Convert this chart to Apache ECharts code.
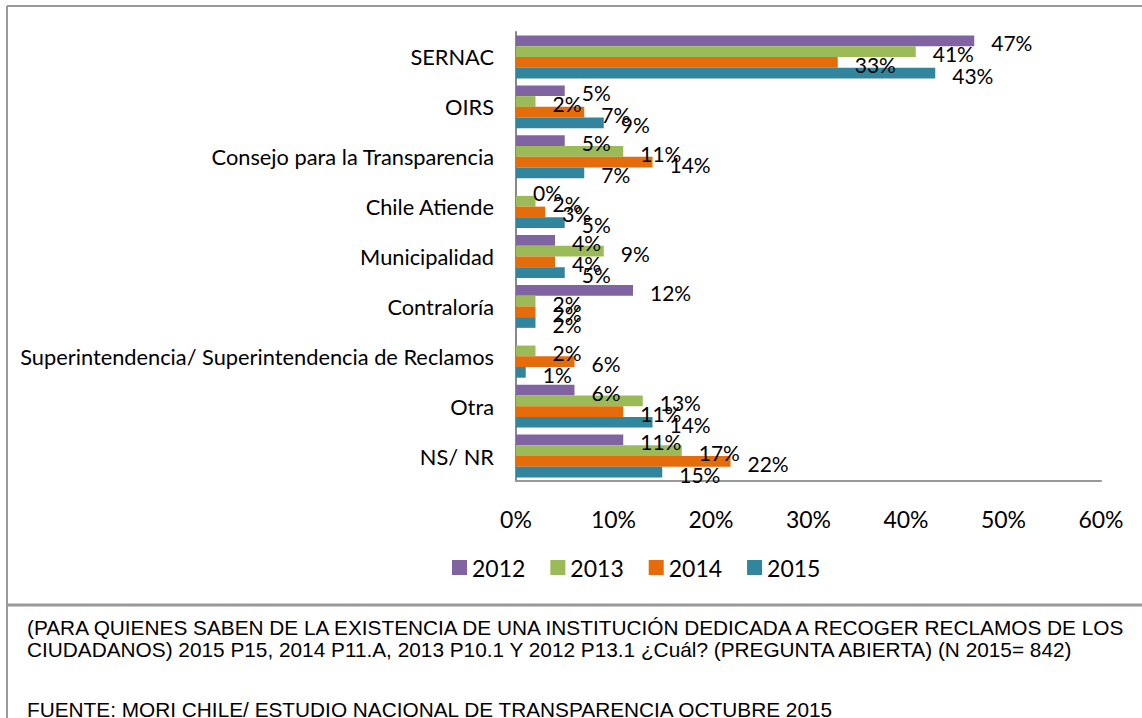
<!DOCTYPE html>
<html>
<head>
<meta charset="utf-8">
<script src="https://cdn.jsdelivr.net/npm/echarts@6/dist/echarts.min.js"></script>
<style>
html,body{margin:0;padding:0;background:#fff;}
#chart{width:1142px;height:718px;}
</style>
</head>
<body>
<div id="chart"></div>
<script>
const categories = ["SERNAC","OIRS","Consejo para la Transparencia","Chile Atiende","Municipalidad","Contraloría","Superintendencia/ Superintendencia de Reclamos","Otra","NS/ NR"];
const years = ["2012","2013","2014","2015"];
const values2012 = [47, 5, 5, 0, 4, 12, null, 6, 11];
const values2013 = [41, 2, 11, 2, 9, 2, 2, 13, 17];
const values2014 = [33, 7, 14, 3, 4, 2, 6, 11, 22];
const values2015 = [43, 9, 7, 5, 5, 2, 1, 14, 15];
const xTicks = {min: 0, max: 60, interval: 10};
const colors = ["#8064A2","#9BBB59","#E46C0A","#31859C"];
const footLine1 = "(PARA QUIENES SABEN DE LA EXISTENCIA DE UNA INSTITUCIÓN DEDICADA A RECOGER RECLAMOS DE LOS";
const footLine2 = "CIUDADANOS) 2015 P15, 2014 P11.A, 2013 P10.1 Y 2012 P13.1 ¿Cuál? (PREGUNTA ABIERTA) (N 2015= 842)";
const footSource = "FUENTE: MORI CHILE/ ESTUDIO NACIONAL DE TRANSPARENCIA OCTUBRE 2015";

const allValues = [values2012, values2013, values2014, values2015];
const chart = echarts.init(document.getElementById('chart'), null, {renderer: 'svg'});
const font = 'Lato, "Open Sans", sans-serif';
const footFont = '20.8px "Liberation Sans", Arial, sans-serif';

const series = years.map((y, i) => ({
  name: y,
  type: 'bar',
  data: allValues[i],
  itemStyle: {color: colors[i]},
  barGap: '0%',
  barCategoryGap: '14%',
  label: {
    show: true,
    position: 'right',
    distance: 17,
    offset: [0, 2],
    formatter: p => (p.value == null ? '' : p.value + '%'),
    color: '#000',
    fontFamily: font,
    fontSize: 21
  }
}));

chart.setOption({
  animation: false,
  color: colors,
  grid: {left: 516, right: 41, top: 32, bottom: 237, containLabel: false},
  xAxis: {
    type: 'value',
    min: xTicks.min, max: xTicks.max, interval: xTicks.interval,
    axisLine: {show: true, lineStyle: {color: '#999', width: 2}},
    axisTick: {show: false},
    splitLine: {show: false},
    axisLabel: {formatter: '{value}%', color: '#000', fontFamily: font, fontSize: 23, margin: 26}
  },
  yAxis: {
    type: 'category',
    inverse: true,
    data: categories,
    axisLine: {show: true, lineStyle: {color: '#888', width: 2}},
    axisTick: {show: false},
    axisLabel: {color: '#000', fontFamily: font, fontSize: 21.8, margin: 22}
  },
  legend: {
    data: years,
    left: 452,
    top: 556,
    padding: 0,
    icon: 'rect',
    itemWidth: 15,
    itemHeight: 15,
    itemGap: 25,
    textStyle: {color: '#000', fontFamily: font, fontSize: 23}
  },
  series: series,
  graphic: [
    {type: 'line', shape: {x1: 7, y1: 6, x2: 1142, y2: 6}, style: {stroke: '#999', lineWidth: 2}},
    {type: 'line', shape: {x1: 7, y1: 6, x2: 7, y2: 718}, style: {stroke: '#999', lineWidth: 2}},
    {type: 'line', shape: {x1: 7, y1: 605, x2: 1142, y2: 605}, style: {stroke: '#999', lineWidth: 3}},
    {type: 'text', left: 27, top: 617, style: {text: footLine1, fill: '#000', font: footFont}},
    {type: 'text', left: 27, top: 639, style: {text: footLine2, fill: '#000', font: footFont}},
    {type: 'text', left: 27, top: 699, style: {text: footSource, fill: '#000', font: footFont}}
  ]
});
</script>
</body>
</html>
